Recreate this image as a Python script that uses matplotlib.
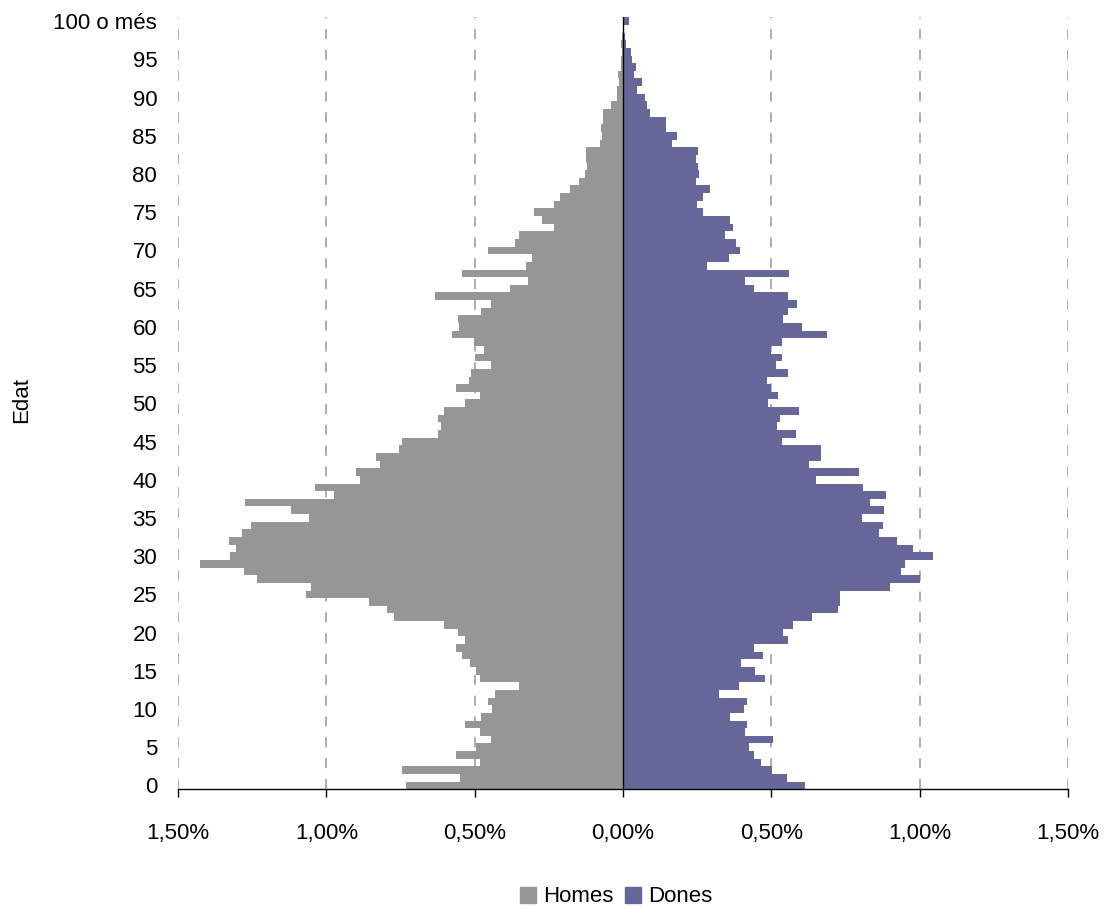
import matplotlib
matplotlib.use("Agg")
import matplotlib.pyplot as plt
from matplotlib.patches import Patch

plt.rcParams["font.family"] = ["Liberation Sans", "DejaVu Sans"]
plt.rcParams["font.size"] = 16

# edat 0..100 (100 = "100 o més")
ages = list(range(0, 101))

homes = [
    0.730, 0.550, 0.745, 0.483, 0.564, 0.497, 0.446, 0.483, 0.534, 0.480,
    0.440, 0.456, 0.433, 0.352, 0.483, 0.497, 0.517, 0.544, 0.564, 0.534,
    0.557, 0.604, 0.773, 0.797, 0.857, 1.070, 1.053, 1.235, 1.279, 1.427,
    1.326, 1.306, 1.329, 1.285, 1.255, 1.060, 1.120, 1.275, 0.975, 1.039,
    0.888, 0.901, 0.820, 0.834, 0.756, 0.746, 0.625, 0.615, 0.625, 0.604,
    0.534, 0.483, 0.564, 0.520, 0.513, 0.446, 0.500, 0.470, 0.503, 0.578,
    0.554, 0.557, 0.480, 0.446, 0.635, 0.382, 0.321, 0.544, 0.328, 0.308,
    0.456, 0.365, 0.352, 0.234, 0.274, 0.301, 0.234, 0.213, 0.180, 0.149,
    0.129, 0.122, 0.126, 0.126, 0.079, 0.072, 0.075, 0.069, 0.069, 0.042,
    0.020, 0.021, 0.015, 0.018, 0.008, 0.008, 0.005, 0.008, 0.003, 0.001,
    0.001,
]

dones = [
    0.615, 0.552, 0.501, 0.464, 0.440, 0.424, 0.504, 0.410, 0.417, 0.360,
    0.407, 0.417, 0.323, 0.390, 0.478, 0.444, 0.397, 0.471, 0.440, 0.555,
    0.541, 0.572, 0.636, 0.726, 0.733, 0.730, 0.901, 1.002, 0.938, 0.952,
    1.046, 0.979, 0.925, 0.864, 0.878, 0.804, 0.881, 0.831, 0.885, 0.810,
    0.652, 0.797, 0.626, 0.669, 0.666, 0.535, 0.582, 0.518, 0.528, 0.592,
    0.488, 0.521, 0.498, 0.484, 0.555, 0.515, 0.535, 0.498, 0.535, 0.689,
    0.605, 0.538, 0.555, 0.585, 0.555, 0.441, 0.410, 0.558, 0.283, 0.356,
    0.393, 0.380, 0.343, 0.370, 0.360, 0.269, 0.249, 0.269, 0.293, 0.246,
    0.256, 0.252, 0.246, 0.252, 0.165, 0.182, 0.145, 0.145, 0.091, 0.081,
    0.074, 0.047, 0.064, 0.037, 0.044, 0.030, 0.027, 0.010, 0.007, 0.001,
    0.020,
]

ytick_pos = list(range(0, 101, 5))
ytick_labels = [str(v) for v in range(0, 100, 5)] + ["100 o més"]
xtick_pos = [-1.5, -1.0, -0.5, 0.0, 0.5, 1.0, 1.5]
xtick_labels = ["1,50%", "1,00%", "0,50%", "0,00%", "0,50%", "1,00%", "1,50%"]

gris = "#969696"
lila = "#666699"

fig = plt.figure(figsize=(11.06, 9.10), dpi=100)
ax = fig.add_axes([178 / 1106, 1 - 789.3 / 910, 890 / 1106, 772 / 910])

ax.barh(ages, [-v for v in homes], height=1.0, color=gris, linewidth=0, zorder=2)
ax.barh(ages, dones, height=1.0, color=lila, linewidth=0, zorder=2)

for x in xtick_pos:
    if x != 0:
        ax.axvline(x, color="#a0a0a0", linestyle=(0, (6, 6.5)), linewidth=1.2, zorder=1)
ax.axvline(0, color="black", linewidth=1.0, zorder=3)

ax.set_xlim(-1.5, 1.5)
ax.set_ylim(-0.5, 100.5)

ax.set_xticks(xtick_pos)
ax.set_xticklabels(xtick_labels)
ax.set_yticks(ytick_pos)
ax.set_yticklabels(ytick_labels)
ax.tick_params(axis="y", length=0, pad=15)
ax.tick_params(axis="x", length=6, width=1, direction="out", pad=18)

for s in ["top", "right", "left"]:
    ax.spines[s].set_visible(False)
ax.spines["bottom"].set_linewidth(1.0)

fig.text(22 / 1106, 1 - 400 / 910, "Edat", rotation=90, ha="center", va="center", fontsize=16)

handles = [Patch(color=gris, label="Homes"), Patch(color=lila, label="Dones")]
fig.legend(handles=handles, loc="center", bbox_to_anchor=(616 / 1106, 1 - 897 / 910),
           ncol=2, frameon=False, handlelength=0.75, handleheight=0.75,
           handletextpad=0.3, columnspacing=0.5, fontsize=16)

fig.savefig("out.png", dpi=100)
